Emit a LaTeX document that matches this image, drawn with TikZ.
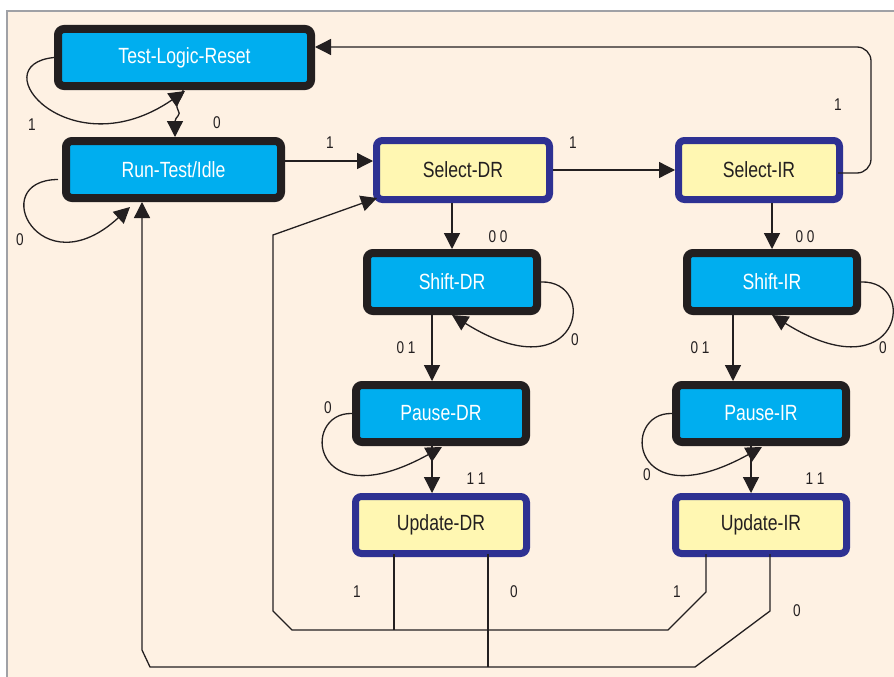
\documentclass[tikz,border=0pt]{standalone}
\usepackage{fontspec}
\setmainfont{Liberation Sans}[FakeStretch=0.8]
\usetikzlibrary{arrows.meta,calc}
\definecolor{ink}{RGB}{35,31,32}
\definecolor{cyanfill}{RGB}{0,174,239}
\definecolor{navy}{RGB}{46,49,146}
\definecolor{paleyellow}{RGB}{255,247,178}
\definecolor{peach}{RGB}{254,241,227}
\definecolor{framegrey}{RGB}{160,161,166}
\begin{document}
\begin{tikzpicture}[x=1pt,y=-1pt,
  state/.style={rounded corners=6pt, inner sep=0pt, font=\fontsize{22}{26}\selectfont},
  dark/.style={state, draw=ink, line width=8pt, outer sep=4pt, fill=cyanfill, text=white},
  light/.style={state, draw=navy, line width=7pt, outer sep=3.5pt, fill=paleyellow, text=ink},
  arr/.style={draw=ink, line width=1.3pt, -{Triangle[length=16pt,width=16pt]}},
  wire/.style={draw=ink, line width=1.3pt},
  lbl/.style={font=\fontsize{17}{19}\selectfont, text=ink, inner sep=0pt}]
\useasboundingbox (0,0) rectangle (894,677);
% panel
\fill[white] (0,0) rectangle (894,677);
\fill[peach] (7,11) rectangle (900,690);
\draw[framegrey, line width=2.5pt] (7,690) -- (7,11) -- (900,11);

% states
\node[dark, minimum width=253pt, minimum height=57pt] (tlr) at (184.5,57.5) {Test-Logic-Reset};
\node[dark, minimum width=215pt, minimum height=57pt] (rti) at (173.5,169.5) {Run-Test/Idle};
\node[light, minimum width=173pt, minimum height=59pt] (sdr) at (463,170) {Select-DR};
\node[light, minimum width=161pt, minimum height=59pt] (sir) at (759,170) {Select-IR};
\node[dark, minimum width=170pt, minimum height=58pt] (shdr) at (452,282) {Shift-DR};
\node[dark, minimum width=170pt, minimum height=58pt] (shir) at (772,282) {Shift-IR};
\node[dark, minimum width=170pt, minimum height=57pt] (pdr) at (441,413.5) {Pause-DR};
\node[dark, minimum width=170pt, minimum height=57pt] (pir) at (761,413.5) {Pause-IR};
\node[light, minimum width=171pt, minimum height=57pt] (udr) at (441,525) {Update-DR};
\node[light, minimum width=171pt, minimum height=57pt] (uir) at (761,525) {Update-IR};

% self loops
\draw[arr] (tlr.west) .. controls (-20,65) and (70,170) .. ($(tlr.south)+(0.5,1)$);
\draw[arr] ($(rti.west)+(-4,10)$) .. controls (-15,180) and (40,290) .. ($(rti.south)+(-43.5,5)$);
\draw[arr] (shdr.east) .. controls (600,280) and (580,395) .. (shdr.south);
\draw[arr] (shir.east) .. controls (920,280) and (900,395) .. (shir.south);
\draw[arr] (pdr.west) .. controls (300,412) and (310,520) .. ($(pdr.south)+(1,1)$);
\draw[arr] (pir.west) .. controls (620,412) and (630,520) .. ($(pir.south)+(1,1)$);

% Test-Logic-Reset to Run-Test/Idle
\draw[arr] ($(tlr.south)+(-1.5,0)$) .. controls (183,99) and (174,103) .. (178,110)
  .. controls (182,115) and (175,117) .. ($(rti.north)+(1.5,0)$);

% horizontal transitions
\draw[arr] ($(rti.east)+(0,-8.5)$) coordinate (a1) -- (a1 -| sdr.west);
\draw[arr] (sdr.east) -- (sir.west);
\coordinate (topR) at (871,47);
\draw[arr, rounded corners=14pt] ($(sir.east)+(-5,3)$) -| (topR) -- (tlr.east |- topR);

% vertical transitions
\draw[arr] (sdr.south -| shdr.north) -- (shdr.north);
\draw[arr] (sir.south -| shir.north) -- (shir.north);
\coordinate (p1) at ($(pdr.north)+(-9,0)$);
\draw[arr] (shdr.south -| p1) -- (p1);
\coordinate (p2) at ($(udr.north)+(-9,0)$);
\draw[arr] (pdr.south -| p2) -- (p2);
\coordinate (p3) at ($(pir.north)+(-28,0)$);
\draw[arr] (shir.south -| p3) -- (p3);
\coordinate (p4) at ($(uir.north)+(-10,0)$);
\draw[arr] (pir.south -| p4) -- (p4);

% return paths from the update states
\coordinate (u1) at ($(uir.south)+(-55,-3)$);
\draw[arr] (u1) -- (706,592) -- (668,630) -- (292,630) -- (273,611) -- (273,235)
  -- ($(sdr.south west)+(4,-5)$);
\coordinate (d1) at ($(udr.south)+(-47,-3)$);
\draw[wire] (d1) -- (d1 |- 0,630);
\coordinate (u0) at ($(uir.south)+(9,-3)$);
\draw[arr] (u0) -- (770,611) -- (695,667) -- (150,667) -- (142,650)
  -- ($(rti.south)+(-31.5,0)$);
\coordinate (d0) at ($(udr.south)+(47,-3)$);
\draw[wire] (d0) -- (d0 |- 0,667);

% transition labels
\node[lbl] (l1) at (32,125) {1};
\node[lbl] (l2) at (217,123) {0};
\node[lbl] (l3) at (20,240) {0};
\node[lbl] (l4) at (330,143) {1};
\node[lbl] (l5) at (573,143) {1};
\node[lbl] (l6) at (838,105) {1};
\node[lbl] (l7) at (498,237) {0 0};
\node[lbl] (l8) at (805,237) {0 0};
\node[lbl] (l9) at (575,340) {0};
\node[lbl] (l10) at (883,348) {0};
\node[lbl] (l11) at (406,348) {0 1};
\node[lbl] (l12) at (700,348) {0 1};
\node[lbl] (l13) at (328,408) {0};
\node[lbl] (l14) at (647,475) {0};
\node[lbl] (l15) at (476,479) {1 1};
\node[lbl] (l16) at (815,479) {1 1};
\node[lbl] (l17) at (357,592) {1};
\node[lbl] (l18) at (514,592) {0};
\node[lbl] (l19) at (677,592) {1};
\node[lbl] (l20) at (797,611) {0};
\end{tikzpicture}
\end{document}
